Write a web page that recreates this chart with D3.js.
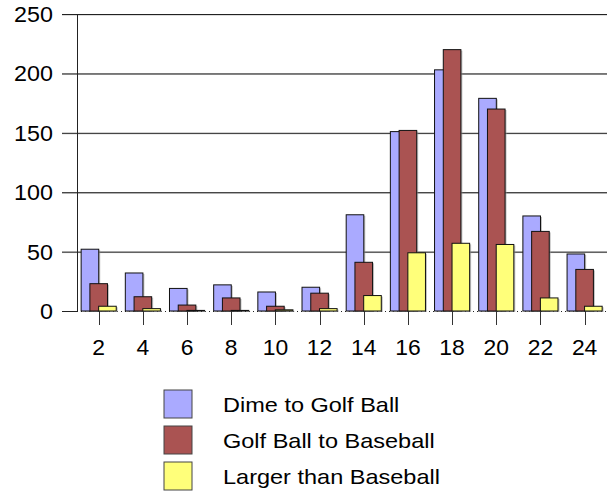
<!DOCTYPE html>
<html>
<head>
<meta charset="utf-8">
<script src="https://cdn.jsdelivr.net/npm/d3@7/dist/d3.min.js"></script>
<style>
  html, body { margin: 0; padding: 0; background: #fff; }
  text { font-family: "Liberation Sans", Arial, sans-serif; fill: #000; }
</style>
</head>
<body>
<svg id="chart" width="611" height="492"></svg>
<script>
// Hail size counts by diameter bucket
const categories = ["2", "4", "6", "8", "10", "12", "14", "16", "18", "20", "22", "24"];
const seriesNames = ["Dime to Golf Ball", "Golf Ball to Baseball", "Larger than Baseball"];
const dimeToGolf = [52, 32, 19, 22, 16, 20, 81, 151, 203, 179, 80, 48];
const golfToBaseball = [23, 12, 5, 11, 4, 15, 41, 152, 220, 170, 67, 35];
const largerThanBaseball = [4, 2, 0.5, 0.5, 1, 2, 13, 49, 57, 56, 11, 4];
const yTicks = [0, 50, 100, 150, 200, 250];
const colors = ["#aaaaff", "#aa5352", "#ffff7a"];

const seriesValues = [dimeToGolf, golfToBaseball, largerThanBaseball];

const svg = d3.select("#chart");

const x = d3.scaleBand().domain(categories).range([76.6, 606.7]);
const y = d3.scaleLinear().domain([0, 250]).range([311, 14]);
const offset = d3.scalePoint().domain(seriesNames).range([-8.75, 8.75]);
const barW = 17.6;
const center = c => x(c) + x.bandwidth() / 2;

// Horizontal gridlines with a soft grey edge beneath
const grid = svg.append("g");
grid.selectAll("line.shade").data(yTicks.filter(t => t > 0)).join("line")
  .attr("x1", 62).attr("x2", 607)
  .attr("y1", d => y(d) + 1).attr("y2", d => y(d) + 1)
  .attr("stroke", "#bbb").attr("stroke-width", 1);
grid.selectAll("line.main").data(yTicks.filter(t => t > 0)).join("line")
  .attr("x1", 62).attr("x2", 607)
  .attr("y1", d => y(d) + 0.5).attr("y2", d => y(d) + 0.5)
  .attr("stroke", "#222").attr("stroke-width", 1);

// Zero line: solid tick stub, dotted across the plot
svg.append("line").attr("x1", 62).attr("x2", 77)
  .attr("y1", y(0) + 0.5).attr("y2", y(0) + 0.5).attr("stroke", "#222");
svg.append("line").attr("x1", 77).attr("x2", 607)
  .attr("y1", y(0) + 0.5).attr("y2", y(0) + 0.5)
  .attr("stroke", "#222").attr("stroke-dasharray", "1,3");

// Vertical axis line
svg.append("line").attr("x1", 77.5).attr("x2", 77.5)
  .attr("y1", y(250)).attr("y2", y(0))
  .attr("stroke", "#222");

// Y labels
svg.append("g").selectAll("text").data(yTicks).join("text")
  .attr("transform", d => `translate(53,${y(d) + 8}) scale(1.06,1)`)
  .attr("text-anchor", "end")
  .attr("font-size", 22)
  .text(d => d);

// X ticks and labels
const xg = svg.append("g");
xg.selectAll("line").data(categories).join("line")
  .attr("x1", d => Math.round(center(d)) + 0.5).attr("x2", d => Math.round(center(d)) + 0.5)
  .attr("y1", y(0)).attr("y2", 325)
  .attr("stroke", "#333");
xg.selectAll("text").data(categories).join("text")
  .attr("transform", d => `translate(${center(d)},355) scale(1.04,1)`)
  .attr("text-anchor", "middle")
  .attr("font-size", 22)
  .text(d => d);

// Bars: three overlapping series per category, later series in front
seriesNames.forEach((name, si) => {
  const g = svg.append("g");
  const data = categories.map((c, i) => ({ c, v: seriesValues[si][i] }));
  g.selectAll("rect.shadow").data(data).join("rect")
    .attr("x", d => center(d.c) + offset(name) - barW / 2 + 1.5)
    .attr("y", d => y(d.v) + 1)
    .attr("width", barW)
    .attr("height", d => y(0) - y(d.v))
    .attr("fill", "#999").attr("opacity", 0.6);
  g.selectAll("rect.bar").data(data).join("rect")
    .attr("x", d => center(d.c) + offset(name) - barW / 2)
    .attr("y", d => y(d.v))
    .attr("width", barW)
    .attr("height", d => y(0) - y(d.v))
    .attr("fill", colors[si])
    .attr("stroke", "#111").attr("stroke-width", 1);
});

// Legend
const legend = svg.append("g");
seriesNames.forEach((name, i) => {
  legend.append("rect")
    .attr("x", 164).attr("y", 390 + i * 36)
    .attr("width", 28).attr("height", 28)
    .attr("fill", colors[i]).attr("stroke", "#444").attr("stroke-width", 1);
  legend.append("text")
    .attr("transform", `translate(223,${412 + i * 36}) scale(1.12,1)`)
    .attr("font-size", 21)
    .text(name);
});
</script>
</body>
</html>
